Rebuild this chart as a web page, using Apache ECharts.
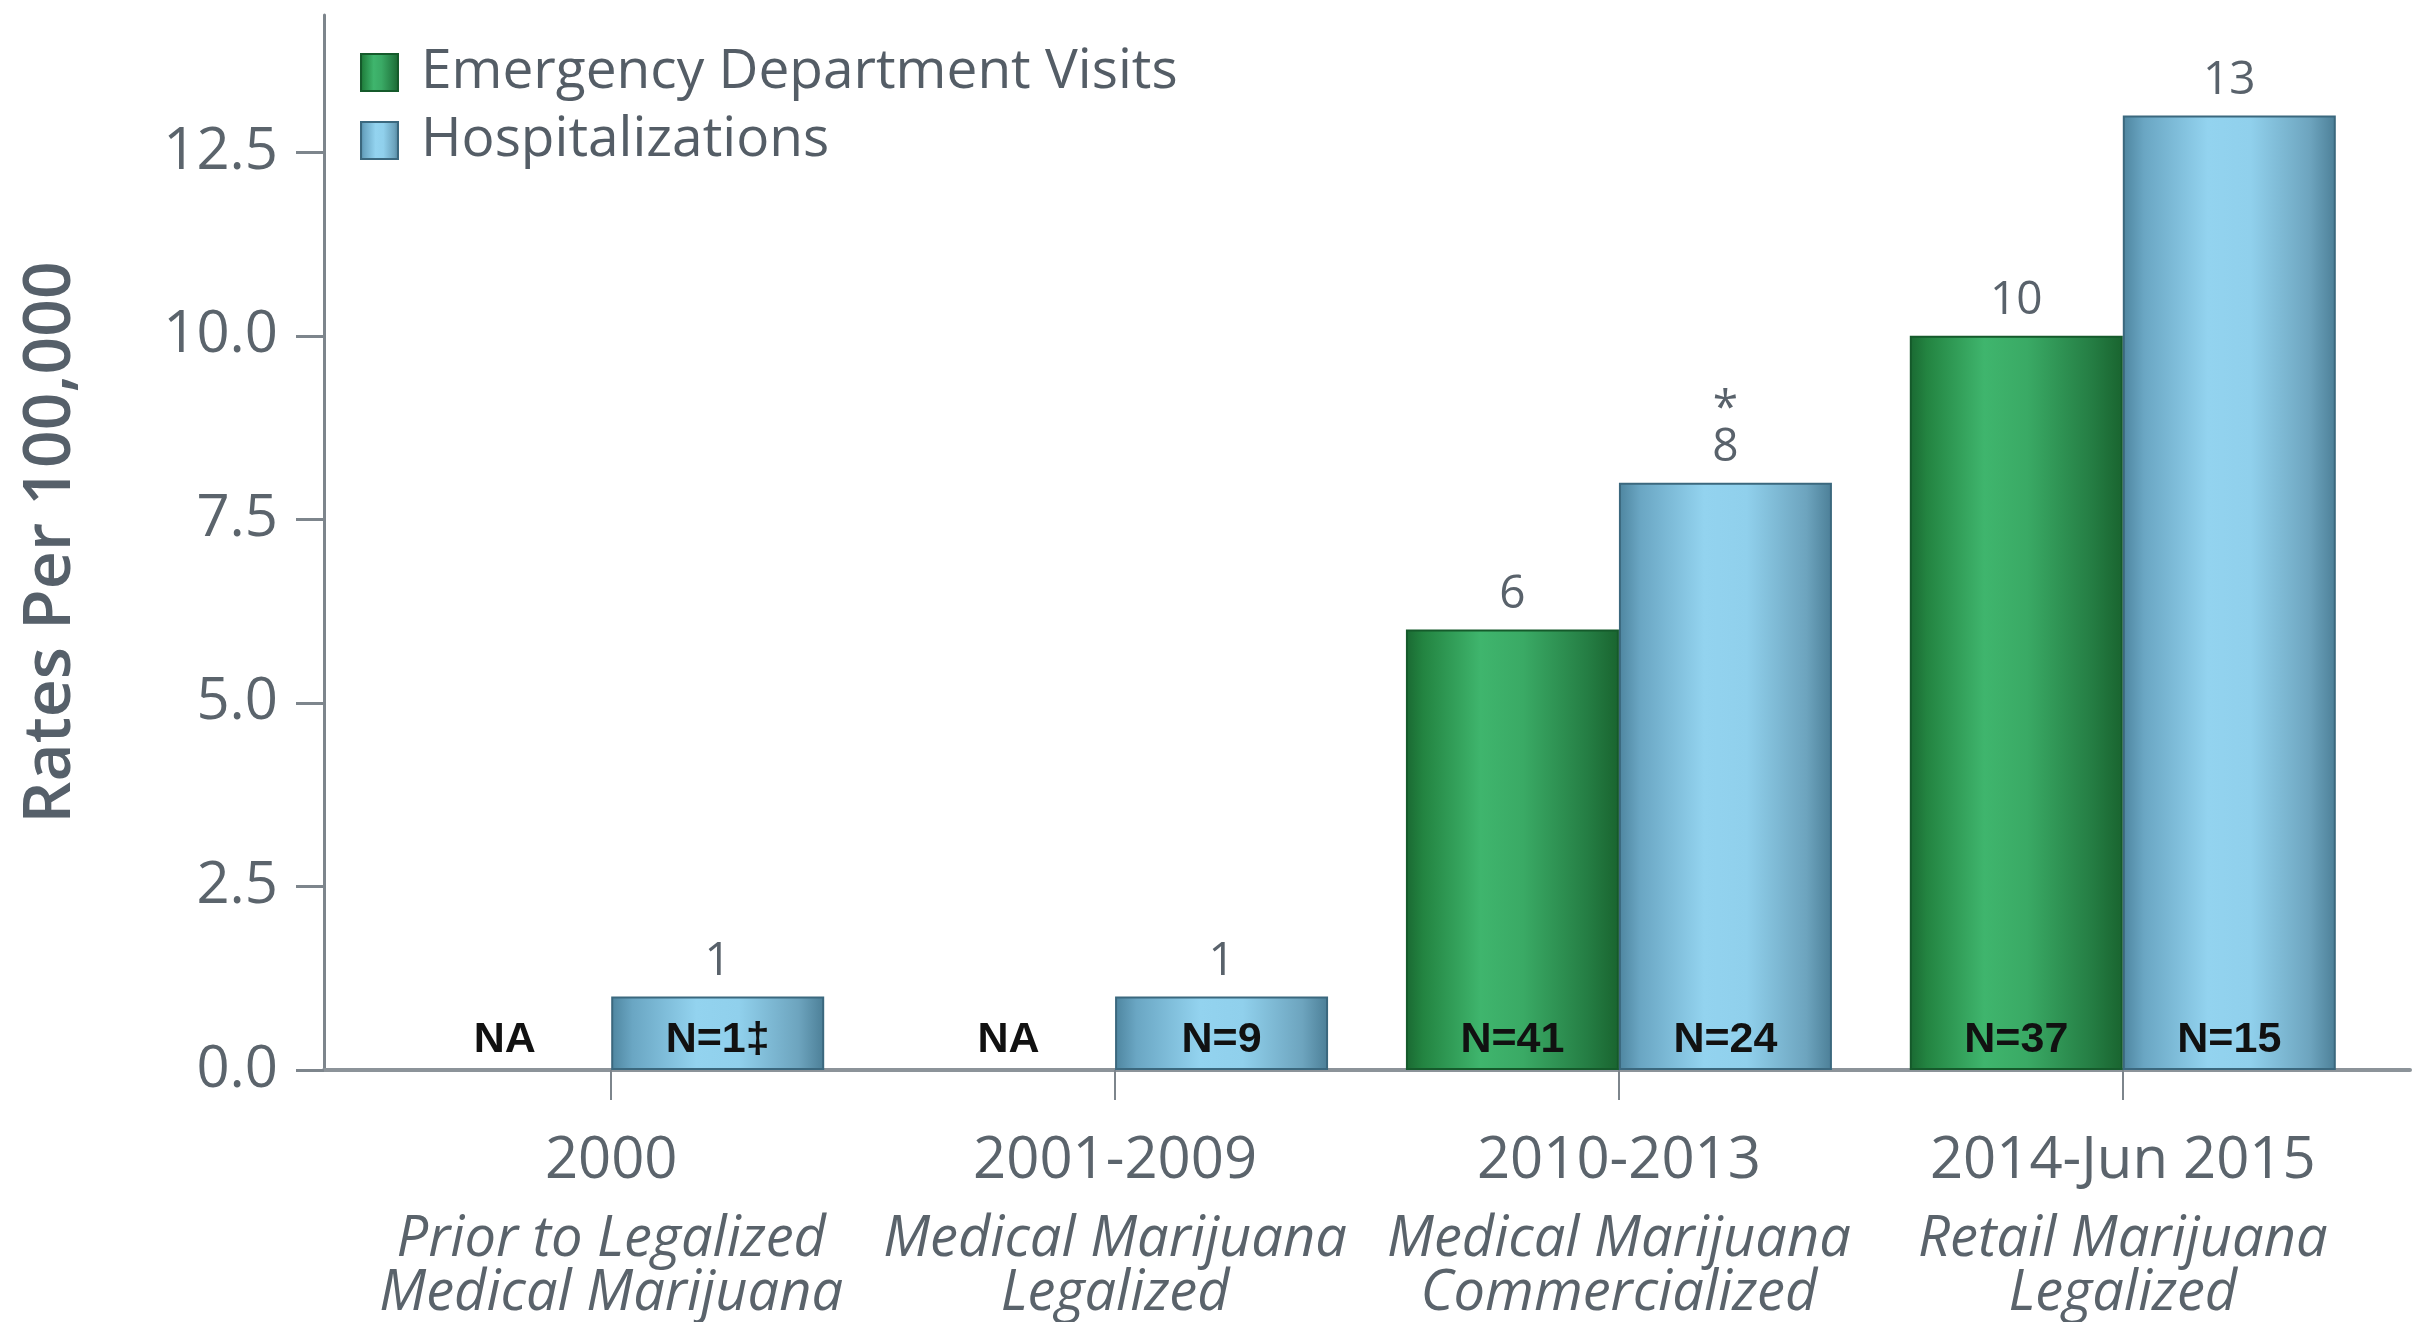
<!DOCTYPE html>
<html>
<head>
<meta charset="utf-8">
<script src="https://cdn.jsdelivr.net/npm/echarts@6/dist/echarts.min.js"></script>
<style>
html,body{margin:0;padding:0;background:#fff;}
#c{width:2419px;height:1322px;}
</style>
</head>
<body>
<div id="c"></div>
<script>
// ---- data ----
var periods = ['2000', '2001-2009', '2010-2013', '2014-Jun 2015'];
var periodNotes = [
  ['Prior to Legalized', 'Medical Marijuana'],
  ['Medical Marijuana', 'Legalized'],
  ['Medical Marijuana', 'Commercialized'],
  ['Retail Marijuana', 'Legalized']
];
var seriesNames = ['Emergency Department Visits', 'Hospitalizations'];
var edRates = [null, null, 6, 10];
var hospRates = [1, 1, 8, 13];
var edCounts = ['NA', 'NA', 'N=41', 'N=37'];
var hospCounts = ['N=1\u2021', 'N=9', 'N=24', 'N=15'];
var hospMarks = ['', '', '*', ''];
var yTicks = [0, 2.5, 5, 7.5, 10, 12.5];
var xTicks = [0, 1, 2, 3];

// ---- styles ----
var FONT = 'Open Sans';
var greenFill = new echarts.graphic.LinearGradient(0, 0, 1, 0, [
  {offset: 0, color: '#1a6932'}, {offset: 0.08, color: '#238441'},
  {offset: 0.35, color: '#3fb56d'}, {offset: 0.55, color: '#3aaa65'},
  {offset: 0.85, color: '#257e44'}, {offset: 1, color: '#19642f'}
]);
var blueFill = new echarts.graphic.LinearGradient(0, 0, 1, 0, [
  {offset: 0, color: '#4e859f'}, {offset: 0.1, color: '#6aa6c3'},
  {offset: 0.4, color: '#93d3ef'}, {offset: 0.6, color: '#90d0ec'},
  {offset: 0.88, color: '#6da4be'}, {offset: 1, color: '#4c7f97'}
]);
var BAR_W = 213;

// visible bars: value label on top
function barData(vals, marks) {
  return vals.map(function (v, i) {
    var m = marks ? marks[i] : '';
    return {
      value: [i, v],
      label: {formatter: (m ? '{s|' + m + '}\n' : '') + '{v|' + (v == null ? '' : v) + '}'}
    };
  });
}
// overlay (invisible) bars on second x axis: count label inside bottom
function countData(vals, counts) {
  return vals.map(function (v, i) {
    return {value: [i, v == null ? 0 : v], label: {formatter: counts[i]}};
  });
}

var countLabel = {
  show: true, position: 'insideBottom', distance: 8,
  fontFamily: 'Liberation Sans', fontWeight: 'bold', fontSize: 43, color: '#111'
};
var topLabel = {
  show: true, position: 'top', distance: 12,
  rich: {
    v: {fontFamily: FONT, fontSize: 46, color: '#59626b', lineHeight: 46},
    s: {fontFamily: FONT, fontSize: 46, color: '#59626b', lineHeight: 30}
  }
};
var xRange = {min: -0.57, max: 3.57};

var chart = echarts.init(document.getElementById('c'));
chart.setOption({
  animation: false,
  backgroundColor: '#ffffff',
  grid: {left: 324, right: 9, top: 15, bottom: 246},
  legend: {
    data: seriesNames,
    orient: 'vertical', left: 355, top: 40,
    itemWidth: 37, itemHeight: 37, itemGap: 13,
    icon: 'rect',
    textStyle: {fontFamily: FONT, fontSize: 55, color: '#545d66', padding: [0, 0, 0, 18]}
  },
  xAxis: [{
    type: 'value', min: xRange.min, max: xRange.max,
    splitLine: {show: false},
    axisLine: {lineStyle: {color: '#8c9399', width: 4}},
    axisTick: {customValues: xTicks, length: 30, lineStyle: {color: '#7d858c', width: 2}},
    axisLabel: {
      customValues: xTicks, margin: 39,
      formatter: function (v) {
        var i = Math.round(v);
        return '{a|' + periods[i] + '}\n{b|' + periodNotes[i][0] + '}\n{b|' + periodNotes[i][1] + '}';
      },
      rich: {
        a: {fontFamily: FONT, fontSize: 58, color: '#5b646c', lineHeight: 104},
        b: {fontFamily: FONT, fontStyle: 'italic', fontSize: 56, color: '#5a636b', lineHeight: 54}
      }
    }
  }, {
    type: 'value', min: xRange.min, max: xRange.max, show: false,
    splitLine: {show: false}
  }],
  yAxis: {
    type: 'value', min: 0, max: 14.37,
    name: 'Rates Per 100,000', nameLocation: 'middle', nameGap: 240,
    nameTextStyle: {fontFamily: FONT, fontWeight: 600, fontSize: 66, color: '#56606a'},
    splitLine: {show: false},
    axisLine: {show: true, onZero: false, lineStyle: {color: '#7d858c', width: 3}},
    axisTick: {show: true, customValues: yTicks, length: 28, lineStyle: {color: '#7d858c', width: 3}},
    axisLabel: {
      customValues: yTicks, margin: 46,
      fontFamily: FONT, fontSize: 58, color: '#5b646c',
      formatter: function (v) { return v.toFixed(1); }
    }
  },
  series: [
    {
      name: seriesNames[0], type: 'bar', xAxisIndex: 0, barWidth: BAR_W, barGap: '0%',
      itemStyle: {color: greenFill, borderColor: '#155a2b', borderWidth: 2},
      label: topLabel,
      data: barData(edRates, null)
    },
    {
      name: seriesNames[1], type: 'bar', xAxisIndex: 0, barWidth: BAR_W, barGap: '0%',
      itemStyle: {color: blueFill, borderColor: '#3b687e', borderWidth: 2},
      label: topLabel,
      data: barData(hospRates, hospMarks)
    },
    {
      name: 'edCount', type: 'bar', xAxisIndex: 1, barWidth: BAR_W, barGap: '0%',
      itemStyle: {color: 'rgba(0,0,0,0)'}, silent: true,
      label: countLabel,
      data: countData(edRates, edCounts)
    },
    {
      name: 'hospCount', type: 'bar', xAxisIndex: 1, barWidth: BAR_W, barGap: '0%',
      itemStyle: {color: 'rgba(0,0,0,0)'}, silent: true,
      label: countLabel,
      data: countData(hospRates, hospCounts)
    }
  ]
});
</script>
</body>
</html>
